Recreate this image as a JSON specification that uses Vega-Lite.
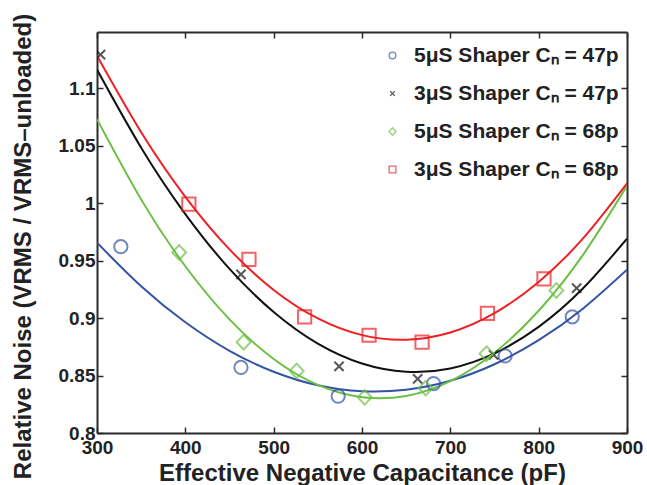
{
  "$schema": "https://vega.github.io/schema/vega-lite/v6.json",
  "width": 530,
  "height": 401,
  "autosize": {"type": "none"},
  "padding": {"left": 97, "top": 32, "right": 20, "bottom": 52},
  "background": "white",
  "config": {
    "view": {"stroke": null},
    "font": "Liberation Sans",
    "axis": {
      "domainColor": "#2b2b2b",
      "domainWidth": 2,
      "tickColor": "#2b2b2b",
      "tickWidth": 1.5,
      "tickSize": -6,
      "grid": false,
      "labelFlush": false,
      "labelOverlap": false,
      "labelFont": "Liberation Sans",
      "labelFontWeight": "bold",
      "labelFontSize": 19,
      "labelColor": "#222",
      "titleFont": "Liberation Sans",
      "titleFontWeight": "bold",
      "titleColor": "#222"
    },
    "legend": {
      "symbolSize": 45,
      "symbolStrokeWidth": 1.3,
      "labelFontSize": 21,
      "labelFontWeight": "bold",
      "labelColor": "#222",
      "labelFont": "Liberation Sans",
      "rowPadding": 16,
      "labelOffset": 11,
      "labelLimit": 300
    }
  },
  "datasets": {
    "points": [
      {"series": "5μS Shaper Cₙ = 47p", "x": 327, "y": 0.962},
      {"series": "5μS Shaper Cₙ = 47p", "x": 463, "y": 0.857},
      {"series": "5μS Shaper Cₙ = 47p", "x": 573, "y": 0.832},
      {"series": "5μS Shaper Cₙ = 47p", "x": 681, "y": 0.843},
      {"series": "5μS Shaper Cₙ = 47p", "x": 762, "y": 0.867},
      {"series": "5μS Shaper Cₙ = 47p", "x": 838, "y": 0.901},
      {"series": "3μS Shaper Cₙ = 47p", "x": 304, "y": 1.129},
      {"series": "3μS Shaper Cₙ = 47p", "x": 463, "y": 0.938},
      {"series": "3μS Shaper Cₙ = 47p", "x": 574, "y": 0.858},
      {"series": "3μS Shaper Cₙ = 47p", "x": 663, "y": 0.847},
      {"series": "3μS Shaper Cₙ = 47p", "x": 749, "y": 0.868},
      {"series": "3μS Shaper Cₙ = 47p", "x": 843, "y": 0.926},
      {"series": "5μS Shaper Cₙ = 68p", "x": 393, "y": 0.957},
      {"series": "5μS Shaper Cₙ = 68p", "x": 466, "y": 0.879},
      {"series": "5μS Shaper Cₙ = 68p", "x": 526, "y": 0.854},
      {"series": "5μS Shaper Cₙ = 68p", "x": 603, "y": 0.831},
      {"series": "5μS Shaper Cₙ = 68p", "x": 672, "y": 0.839},
      {"series": "5μS Shaper Cₙ = 68p", "x": 741, "y": 0.869},
      {"series": "5μS Shaper Cₙ = 68p", "x": 820, "y": 0.924},
      {"series": "3μS Shaper Cₙ = 68p", "x": 404, "y": 0.999},
      {"series": "3μS Shaper Cₙ = 68p", "x": 472, "y": 0.951},
      {"series": "3μS Shaper Cₙ = 68p", "x": 535, "y": 0.901},
      {"series": "3μS Shaper Cₙ = 68p", "x": 608, "y": 0.885},
      {"series": "3μS Shaper Cₙ = 68p", "x": 668, "y": 0.879},
      {"series": "3μS Shaper Cₙ = 68p", "x": 742, "y": 0.904},
      {"series": "3μS Shaper Cₙ = 68p", "x": 806, "y": 0.934}
    ],
    "curves": [
      {"series": "5μS Shaper Cₙ = 47p", "x": 300, "y": 0.9655},
      {"series": "5μS Shaper Cₙ = 47p", "x": 350, "y": 0.9276},
      {"series": "5μS Shaper Cₙ = 47p", "x": 400, "y": 0.8963},
      {"series": "5μS Shaper Cₙ = 47p", "x": 450, "y": 0.8715},
      {"series": "5μS Shaper Cₙ = 47p", "x": 500, "y": 0.8533},
      {"series": "5μS Shaper Cₙ = 47p", "x": 550, "y": 0.8415},
      {"series": "5μS Shaper Cₙ = 47p", "x": 600, "y": 0.8363},
      {"series": "5μS Shaper Cₙ = 47p", "x": 650, "y": 0.8376},
      {"series": "5μS Shaper Cₙ = 47p", "x": 700, "y": 0.8454},
      {"series": "5μS Shaper Cₙ = 47p", "x": 750, "y": 0.8598},
      {"series": "5μS Shaper Cₙ = 47p", "x": 800, "y": 0.8807},
      {"series": "5μS Shaper Cₙ = 47p", "x": 850, "y": 0.9081},
      {"series": "5μS Shaper Cₙ = 47p", "x": 900, "y": 0.942},
      {"series": "3μS Shaper Cₙ = 47p", "x": 300, "y": 1.116},
      {"series": "3μS Shaper Cₙ = 47p", "x": 350, "y": 1.0481},
      {"series": "3μS Shaper Cₙ = 47p", "x": 400, "y": 0.9904},
      {"series": "3μS Shaper Cₙ = 47p", "x": 450, "y": 0.9427},
      {"series": "3μS Shaper Cₙ = 47p", "x": 500, "y": 0.9052},
      {"series": "3μS Shaper Cₙ = 47p", "x": 550, "y": 0.8777},
      {"series": "3μS Shaper Cₙ = 47p", "x": 600, "y": 0.8604},
      {"series": "3μS Shaper Cₙ = 47p", "x": 650, "y": 0.8532},
      {"series": "3μS Shaper Cₙ = 47p", "x": 700, "y": 0.8561},
      {"series": "3μS Shaper Cₙ = 47p", "x": 750, "y": 0.8692},
      {"series": "3μS Shaper Cₙ = 47p", "x": 800, "y": 0.8923},
      {"series": "3μS Shaper Cₙ = 47p", "x": 850, "y": 0.9256},
      {"series": "3μS Shaper Cₙ = 47p", "x": 900, "y": 0.9689},
      {"series": "5μS Shaper Cₙ = 68p", "x": 300, "y": 1.0729},
      {"series": "5μS Shaper Cₙ = 68p", "x": 350, "y": 1.0031},
      {"series": "5μS Shaper Cₙ = 68p", "x": 400, "y": 0.945},
      {"series": "5μS Shaper Cₙ = 68p", "x": 450, "y": 0.8988},
      {"series": "5μS Shaper Cₙ = 68p", "x": 500, "y": 0.8644},
      {"series": "5μS Shaper Cₙ = 68p", "x": 550, "y": 0.8418},
      {"series": "5μS Shaper Cₙ = 68p", "x": 600, "y": 0.8311},
      {"series": "5μS Shaper Cₙ = 68p", "x": 650, "y": 0.8322},
      {"series": "5μS Shaper Cₙ = 68p", "x": 700, "y": 0.8451},
      {"series": "5μS Shaper Cₙ = 68p", "x": 750, "y": 0.8698},
      {"series": "5μS Shaper Cₙ = 68p", "x": 800, "y": 0.9063},
      {"series": "5μS Shaper Cₙ = 68p", "x": 850, "y": 0.9547},
      {"series": "5μS Shaper Cₙ = 68p", "x": 900, "y": 1.0149},
      {"series": "3μS Shaper Cₙ = 68p", "x": 300, "y": 1.128},
      {"series": "3μS Shaper Cₙ = 68p", "x": 350, "y": 1.0615},
      {"series": "3μS Shaper Cₙ = 68p", "x": 400, "y": 1.0054},
      {"series": "3μS Shaper Cₙ = 68p", "x": 450, "y": 0.9597},
      {"series": "3μS Shaper Cₙ = 68p", "x": 500, "y": 0.9244},
      {"series": "3μS Shaper Cₙ = 68p", "x": 550, "y": 0.8996},
      {"series": "3μS Shaper Cₙ = 68p", "x": 600, "y": 0.8851},
      {"series": "3μS Shaper Cₙ = 68p", "x": 650, "y": 0.8811},
      {"series": "3μS Shaper Cₙ = 68p", "x": 700, "y": 0.8874},
      {"series": "3μS Shaper Cₙ = 68p", "x": 750, "y": 0.9042},
      {"series": "3μS Shaper Cₙ = 68p", "x": 800, "y": 0.9314},
      {"series": "3μS Shaper Cₙ = 68p", "x": 850, "y": 0.969},
      {"series": "3μS Shaper Cₙ = 68p", "x": 900, "y": 1.0171}
    ]
  },
  "layer": [
    {
      "data": {"name": "curves"},
      "transform": [{"filter": {"field": "series", "equal": "5μS Shaper Cₙ = 47p"}}],
      "mark": {"type": "line", "strokeWidth": 2, "clip": true, "interpolate": "natural", "color": "#3353a6"},
      "encoding": {
        "x": {"field": "x", "type": "quantitative", "scale": {"domain": [300, 900], "nice": false, "zero": false},
              "axis": {"orient": "bottom", "values": [300, 400, 500, 600, 700, 800, 900], "title": "Effective Negative Capacitance (pF)", "titleFontSize": 24, "labelPadding": 11, "titleBaseline": "alphabetic", "titleY": 47}},
        "y": {"field": "y", "type": "quantitative", "scale": {"domain": [0.8, 1.1487], "nice": false, "zero": false},
              "axis": {"orient": "left", "values": [0.8, 0.85, 0.9, 0.95, 1, 1.05, 1.1], "format": "~g", "title": "Relative Noise (VRMS / VRMS–unloaded)", "titleFontSize": 24, "labelPadding": 8, "titlePadding": 23, "titleY": 214}}
      }
    },
    {
      "data": {"name": "curves"},
      "transform": [{"filter": {"field": "series", "equal": "3μS Shaper Cₙ = 47p"}}],
      "mark": {"type": "line", "strokeWidth": 2, "clip": true, "interpolate": "natural", "color": "#111111"},
      "encoding": {
        "x": {"field": "x", "type": "quantitative", "axis": null},
        "y": {"field": "y", "type": "quantitative", "axis": null}
      }
    },
    {
      "data": {"name": "curves"},
      "transform": [{"filter": {"field": "series", "equal": "5μS Shaper Cₙ = 68p"}}],
      "mark": {"type": "line", "strokeWidth": 2, "clip": true, "interpolate": "natural", "color": "#6cbf45"},
      "encoding": {
        "x": {"field": "x", "type": "quantitative", "axis": null},
        "y": {"field": "y", "type": "quantitative", "axis": null}
      }
    },
    {
      "data": {"name": "curves"},
      "transform": [{"filter": {"field": "series", "equal": "3μS Shaper Cₙ = 68p"}}],
      "mark": {"type": "line", "strokeWidth": 2, "clip": true, "interpolate": "natural", "color": "#ee2024"},
      "encoding": {
        "x": {"field": "x", "type": "quantitative", "axis": null},
        "y": {"field": "y", "type": "quantitative", "axis": null}
      }
    },
    {
      "data": {"name": "points"},
      "mark": {"type": "point", "filled": false, "strokeWidth": 2, "size": 175, "clip": true},
      "encoding": {
        "x": {"field": "x", "type": "quantitative", "axis": {"orient": "top", "values": [300, 400, 500, 600, 700, 800, 900], "labels": false, "title": null}},
        "y": {"field": "y", "type": "quantitative", "axis": {"orient": "right", "values": [0.8, 0.85, 0.9, 0.95, 1, 1.05, 1.1], "labels": false, "title": null}},
        "color": {"field": "series", "type": "nominal",
                  "scale": {"domain": ["5μS Shaper Cₙ = 47p", "3μS Shaper Cₙ = 47p", "5μS Shaper Cₙ = 68p", "3μS Shaper Cₙ = 68p"],
                            "range": ["#3353a6", "#111111", "#6cbf45", "#ee2024"]},
                  "legend": {"title": null, "orient": "none", "legendX": 285, "legendY": 13}},
        "shape": {"field": "series", "type": "nominal",
                  "scale": {"domain": ["5μS Shaper Cₙ = 47p", "3μS Shaper Cₙ = 47p", "5μS Shaper Cₙ = 68p", "3μS Shaper Cₙ = 68p"],
                            "range": ["circle", "M-0.7,-0.7L0.7,0.7M-0.7,0.7L0.7,-0.7", "M0,-1.1L1.05,0L0,1.1L-1.05,0Z", "square"]},
                  "legend": {"title": null, "orient": "none", "legendX": 285, "legendY": 13}}
      }
    }
  ],
  "resolve": {"axis": {"x": "independent", "y": "independent"}}
}
